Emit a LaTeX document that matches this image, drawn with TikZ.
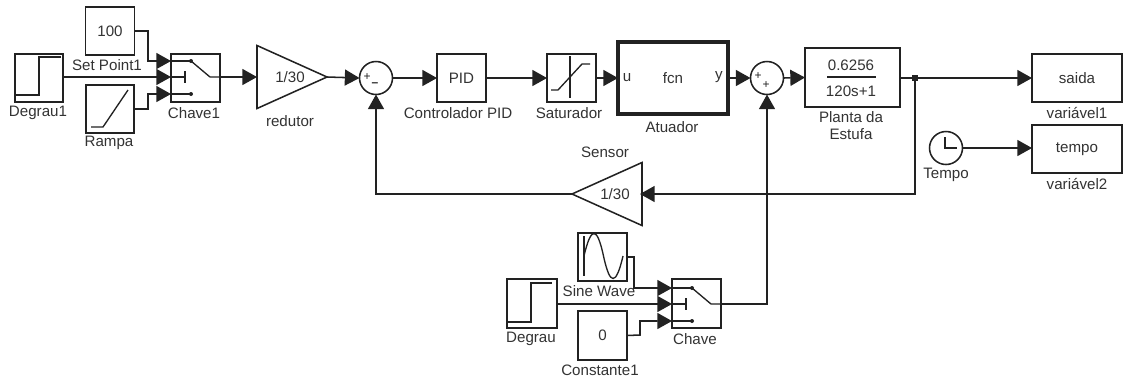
\documentclass[tikz,border=0pt]{standalone}
\usepackage{fontspec}
\setmainfont{Liberation Sans}
\usetikzlibrary{arrows.meta,shapes.geometric}
\definecolor{ink}{HTML}{222222}
\definecolor{txt}{HTML}{333333}
\tikzset{
  x=0.75pt,y=-0.75pt,
  every node/.style={inner sep=0pt,outer sep=0pt,text=txt,font=\fontsize{11.35pt}{13pt}\selectfont},
  blk/.style 2 args={draw=ink,line width=1.15pt,minimum width=#1*0.75pt,minimum height=#2*0.75pt},
  sumc/.style={circle,draw=ink,line width=1.15pt,minimum size=33*0.75pt},
  tri/.style={isosceles triangle,isosceles triangle stretches,draw=ink,line width=1.15pt,minimum width=63*0.75pt,minimum height=70*0.75pt},
  wire/.style={draw=ink,line width=1.15pt},
  arw/.style={wire,-{Triangle[length=11pt,width=12pt]}},
  icon/.style={draw=ink,line width=1pt},
  lab/.style={},
  sign/.style={font=\fontsize{9pt}{9pt}\selectfont,text=ink},
}
\newcommand{\switchicon}[2]{% left x, centre y
  \draw[icon] (#1,#2-16) -- ++(20,0);
  \fill[ink] (#1+20,#2-16) circle (1.5pt);
  \draw[icon] (#1,#2) -- ++(14,0);
  \draw[icon] (#1+14,#2-6) -- ++(0,12);
  \draw[icon] (#1,#2+17) -- ++(20,0);
  \fill[ink] (#1+20,#2+17) circle (1.5pt);
  \draw[icon] (#1+20,#2-16) -- (#1+39,#2) -- (#1+49,#2);
}
\begin{document}
\begin{tikzpicture}
\useasboundingbox[fill=white] (0,0) rectangle (1124,380);

% ---- blocks, top row
\node[blk={48}{48}] (degrauA) at (39,78) {};
\node[blk={49}{48}] (setp) at (110,31) {100};
\node[blk={48}{48}] (rampa) at (110,109) {};
\node[blk={49}{48}] (chaveA) at (195.5,78) {};
\node[tri,anchor=apex] (redutor) at (327,77) {};
\node at (290,77) {1/30};
\node[sumc] (sumA) at (376,78) {};
\node[blk={49}{48}] (pid) at (461.5,78) {PID};
\node[blk={49}{48}] (sat) at (571.5,78) {};
\node[draw=ink,line width=2.6pt,minimum width=110*0.75pt,minimum height=72*0.75pt] (atu) at (673,78) {fcn};
\node at (627,78) {u};
\node at (719,77) {y};
\node[sumc] (sumB) at (767,78) {};
\node[blk={95}{59}] (planta) at (852.5,77.5) {};
\node (num) at (851,65) {0.6256};
\node (den) at (851,91) {120s+1};
\draw[icon] (827,77) -- (876,77);
\node[blk={90}{48}] (saida) at (1077,78) {saida};
\node[blk={90}{48}] (tempoS) at (1077,149) {tempo};
\node[circle,draw=ink,line width=1.15pt,minimum size=33*0.75pt] (clock) at (946,148) {};
\node[tri,shape border rotate=180,anchor=apex] (sensor) at (572,194) {};
\node at (615,194) {1/30};

% ---- blocks, bottom row
\node[blk={49}{48}] (sine) at (602.5,257) {};
\node[blk={50}{49}] (degrauB) at (532,303.5) {};
\node[blk={49}{49}] (const) at (602.5,335.5) {0};
\node[blk={49}{49}] (chaveB) at (696.5,303.5) {};

% ---- icons
\draw[icon] (15,95) -- (39,95) -- (39,57) -- (61,57);
\draw[icon] (91,127) -- (103,127) -- (128,90);
\switchicon{171}{77}
\switchicon{672}{304}
\draw[icon] (570,56) -- (570,98);
\draw[icon] (551,90) -- (558,90) -- (582,64) -- (590,64);
\draw[icon] (507,322) -- (531,322) -- (531,283) -- (552,283);
\draw[icon] (584,236) -- (584,276);
\draw[icon] (584,256) .. controls (591,226) and (597,226) .. (603.5,256) .. controls (610,286) and (616,286) .. (623,256);
\draw[icon] (945,137) -- (945,148) -- (957,148);
\node[sign] at (367,77) {+};
\node[sign] at (375,85) {\textbf{--}};
\node[sign] at (758,76) {+};
\node[sign] at (766,85) {+};

% ---- labels
\node[lab] (l1) at (107,65) {Set Point1};
\node[lab] (l2) at (38,113) {Degrau1};
\node[lab] (l3) at (109,143) {Rampa};
\node[lab] (l4) at (194,113) {Chave1};
\node[lab] (l5) at (290,121) {redutor};
\node[lab] (l6) at (458,113) {Controlador PID};
\node[lab] (l7) at (569,113) {Saturador};
\node[lab] (l8) at (672,127) {Atuador};
\node[lab] (l9) at (851,117) {Planta da};
\node[lab] (l10) at (851,134) {Estufa};
\node[lab] (l11) at (1077,113) {variável1};
\node[lab] (l12) at (1077,184) {variável2};
\node[lab] (l13) at (946,175) {Tempo};
\node[lab] (l14) at (605,152) {Sensor};
\node[lab] (l15) at (599,291) {Sine Wave};
\node[lab] (l16) at (531,339) {Degrau};
\node[lab] (l17) at (695,339) {Chave};
\node[lab] (l18) at (600,370) {Constante1};

% ---- connector end points
\coordinate (chAa) at (171,61);
\coordinate (chAb) at (171,77);
\coordinate (chAc) at (171,94);
\coordinate (chBa) at (672,288);
\coordinate (chBb) at (672,304);
\coordinate (chBc) at (672,321);
\coordinate (branch) at (915,78);
\coordinate (chAout) at (220,77);
\coordinate (chBout) at (721,304);
\coordinate (redIn) at (257,77);
\coordinate (sensIn) at (640,194);

% ---- connectors
\draw[arw] (setp.east) -- (148,31) -- (148,61) -- (chAa);
\draw[arw] (degrauA.east |- chAb) -- (chAb);
\draw[arw] (rampa.east) -- (148,109) -- (148,94) -- (chAc);
\draw[arw] (chAout) -- (redIn);
\draw[arw] (redutor.apex) -- (sumA.west);
\draw[arw] (sumA.east) -- (pid.west);
\draw[arw] (pid.east) -- (sat.west);
\draw[arw] (sat.east) -- (atu.west);
\draw[arw] (atu.east) -- (sumB.west);
\draw[arw] (sumB.east) -- (planta.west);
\draw[arw] (planta.east |- branch) -- (saida.west);
\fill[ink] (912,75) rectangle (918,81);
\draw[arw] (branch) -- (915,194) -- (sensIn);
\draw[arw] (sensor.apex) -- (sumA.south |- sensor.apex) -- (sumA.south);
\draw[arw] (clock.east) -- (tempoS.west |- clock.east);
\draw[arw] (sine.east) -- (634,257) -- (634,288) -- (chBa);
\draw[arw] (degrauB.east |- chBb) -- (chBb);
\draw[arw] (const.east) -- (640,335) -- (640,321) -- (chBc);
\draw[arw] (chBout) -| (sumB.south);
\end{tikzpicture}
\end{document}
